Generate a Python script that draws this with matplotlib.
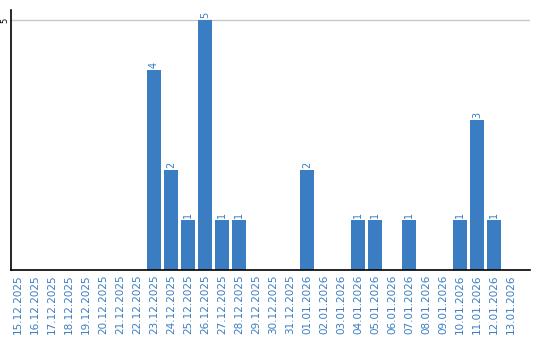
import matplotlib
matplotlib.use("Agg")
import matplotlib.pyplot as plt

dates = ["15.12.2025", "16.12.2025", "17.12.2025", "18.12.2025", "19.12.2025",
         "20.12.2025", "21.12.2025", "22.12.2025", "23.12.2025", "24.12.2025",
         "25.12.2025", "26.12.2025", "27.12.2025", "28.12.2025", "29.12.2025",
         "30.12.2025", "31.12.2025", "01.01.2026", "02.01.2026", "03.01.2026",
         "04.01.2026", "05.01.2026", "06.01.2026", "07.01.2026", "08.01.2026",
         "09.01.2026", "10.01.2026", "11.01.2026", "12.01.2026", "13.01.2026"]
values = [0, 0, 0, 0, 0, 0, 0, 0, 4, 2, 1, 5, 1, 1, 0, 0, 0, 2, 0, 0,
          1, 1, 0, 1, 0, 0, 1, 3, 1, 0]

bar_color = "#3a7dc2"
fig = plt.figure(figsize=(5.4, 3.4), dpi=100)
ax = fig.add_axes([11/540, 70/340, 519/540, 260/340])
x = list(range(len(dates)))
bars = ax.bar(x, values, width=0.82, color=bar_color, zorder=2)
for xi, v in zip(x, values):
    if v > 0:
        ax.text(xi, v + 0.05, str(v), rotation=90, ha="center", va="bottom",
                color=bar_color, fontsize=7)

ax.set_xlim(-0.4, 30.1)
ax.set_ylim(0, 5.2)
ax.set_yticks([5])
ax.set_yticklabels(["5"], rotation=90, va="center", fontsize=6)
ax.yaxis.grid(True, color="#c8c8c8", linewidth=1, zorder=0)
ax.set_xticks(x)
ax.set_xticklabels(dates, rotation=90, color=bar_color, fontsize=7.5)
ax.tick_params(axis="x", length=0, pad=3)
ax.tick_params(axis="y", length=0, pad=1)
for s in ["top", "right"]:
    ax.spines[s].set_visible(False)
ax.spines["left"].set_linewidth(1.2)
ax.spines["bottom"].set_linewidth(1.2)
fig.savefig("out.png", dpi=100)
